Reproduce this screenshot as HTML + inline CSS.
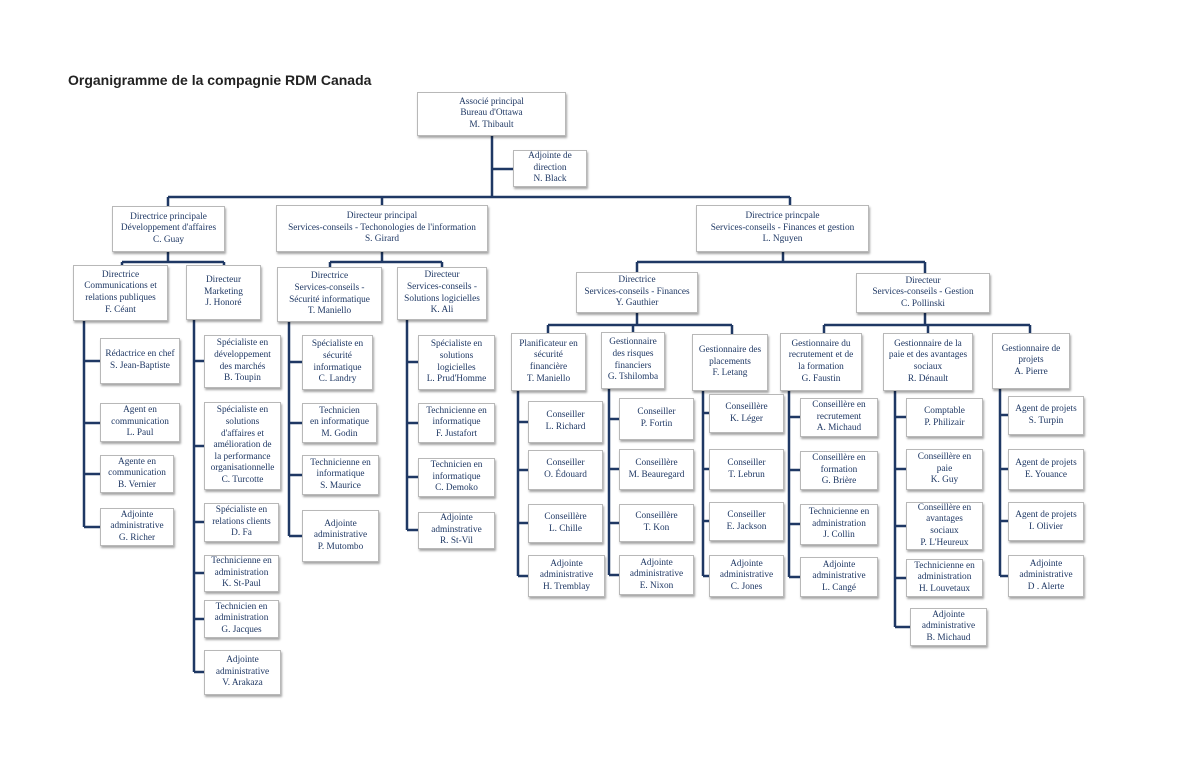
<!DOCTYPE html>
<html><head><meta charset="utf-8"><style>
body{margin:0;width:1200px;height:776px;background:#fff;position:relative;overflow:hidden}
.t{position:absolute;left:68px;top:72px;font:bold 14px "Liberation Sans",sans-serif;color:#222}
.b{position:absolute;box-sizing:border-box;border:1px solid #b8b8b8;background:#fff;box-shadow:1px 2px 2px rgba(0,0,0,.35);display:flex;align-items:center;justify-content:center;text-align:center;font:9.3px/11.6px "Liberation Serif",serif;color:#1f3864;white-space:nowrap}
svg{position:absolute;left:0;top:0}
</style></head><body>
<div class="t">Organigramme de la compagnie RDM Canada</div>
<svg width="1200" height="776"><g stroke="#1f3864" stroke-width="2.5" fill="none">
<path d="M492 136V197M492 169H513M168 197H790M168 197V206M382 197V205M790 197V205"/>
<path d="M168 252V262M122 262H224M122 262V265M224 262V265"/>
<path d="M382 252V262M330 262H442M330 262V267M442 262V267"/>
<path d="M783 252V262M637 262H925M637 262V272M925 262V273"/>
<path d="M637 313V325M548 325H732M548 325V333M633 325V332M732 325V334"/>
<path d="M925 313V325M824 325H1030M824 325V333M928 325V333M1030 325V333"/>
<path d="M84 321V527M84 361H100M84 423H100M84 474H100M84 527H100"/>
<path d="M194 320V672M194 361H204M194 446H204M194 522H204M194 573H204M194 619H204M194 672H204"/>
<path d="M289 322V536M289 362H302M289 423H302M289 475H302M289 536H302"/>
<path d="M407 320V530M407 362H418M407 423H418M407 477H418M407 530H418"/>
<path d="M518 391V576M518 422H528M518 470H528M518 523H528M518 576H528"/>
<path d="M609 389V575M609 419H619M609 469H619M609 523H619M609 575H619"/>
<path d="M703 391V576M703 413H709M703 469H709M703 521H709M703 576H709"/>
<path d="M789 391V577M789 417H800M789 470H800M789 524H800M789 577H800"/>
<path d="M895 391V627M895 417H906M895 469H906M895 526H906M895 578H906M895 627H910"/>
<path d="M1000 389V576M1000 415H1008M1000 469H1008M1000 521H1008M1000 576H1008"/>
</g></svg>
<div class="b" style="left:417px;top:92px;width:149px;height:44px">Associé principal<br>Bureau d'Ottawa<br>M. Thibault</div>
<div class="b" style="left:513px;top:150px;width:74px;height:37px">Adjointe de<br>direction<br>N. Black</div>
<div class="b" style="left:112px;top:206px;width:113px;height:46px">Directrice principale<br>Développement d'affaires<br>C. Guay</div>
<div class="b" style="left:276px;top:205px;width:212px;height:47px">Directeur principal<br>Services-conseils - Techonologies de l'information<br>S. Girard</div>
<div class="b" style="left:696px;top:205px;width:173px;height:47px">Directrice princpale<br>Services-conseils - Finances et gestion<br>L. Nguyen</div>
<div class="b" style="left:73px;top:265px;width:95px;height:56px">Directrice<br>Communications et<br>relations publiques<br>F. Céant</div>
<div class="b" style="left:186px;top:265px;width:75px;height:55px">Directeur<br>Marketing<br>J. Honoré</div>
<div class="b" style="left:277px;top:267px;width:105px;height:55px">Directrice<br>Services-conseils -<br>Sécurité informatique<br>T. Maniello</div>
<div class="b" style="left:397px;top:267px;width:90px;height:53px">Directeur<br>Services-conseils -<br>Solutions logicielles<br>K. Ali</div>
<div class="b" style="left:576px;top:272px;width:122px;height:41px">Directrice<br>Services-conseils - Finances<br>Y. Gauthier</div>
<div class="b" style="left:856px;top:273px;width:134px;height:40px">Directeur<br>Services-conseils - Gestion<br>C. Pollinski</div>
<div class="b" style="left:511px;top:333px;width:75px;height:58px">Planificateur en<br>sécurité<br>financière<br>T. Maniello</div>
<div class="b" style="left:601px;top:332px;width:64px;height:57px">Gestionnaire<br>des risques<br>financiers<br>G. Tshilomba</div>
<div class="b" style="left:692px;top:334px;width:76px;height:57px">Gestionnaire des<br>placements<br>F. Letang</div>
<div class="b" style="left:780px;top:333px;width:82px;height:58px">Gestionnaire du<br>recrutement et de<br>la formation<br>G. Faustin</div>
<div class="b" style="left:883px;top:333px;width:90px;height:58px">Gestionnaire de la<br>paie et des avantages<br>sociaux<br>R. Dénault</div>
<div class="b" style="left:992px;top:333px;width:78px;height:56px">Gestionnaire de<br>projets<br>A. Pierre</div>

<div class="b" style="left:100px;top:338px;width:80px;height:46px">Rédactrice en chef<br>S. Jean-Baptiste</div>
<div class="b" style="left:100px;top:403px;width:80px;height:39px">Agent en<br>communication<br>L. Paul</div>
<div class="b" style="left:100px;top:455px;width:74px;height:38px">Agente en<br>communication<br>B. Vernier</div>
<div class="b" style="left:100px;top:508px;width:74px;height:38px">Adjointe<br>administrative<br>G. Richer</div>

<div class="b" style="left:204px;top:335px;width:77px;height:53px">Spécialiste en<br>développement<br>des marchés<br>B. Toupin</div>
<div class="b" style="left:204px;top:402px;width:77px;height:88px">Spécialiste en<br>solutions<br>d'affaires et<br>amélioration de<br>la performance<br>organisationnelle<br>C. Turcotte</div>
<div class="b" style="left:204px;top:503px;width:75px;height:39px">Spécialiste en<br>relations clients<br>D. Fa</div>
<div class="b" style="left:204px;top:555px;width:75px;height:37px">Technicienne en<br>administration<br>K. St-Paul</div>
<div class="b" style="left:204px;top:600px;width:75px;height:38px">Technicien en<br>administration<br>G. Jacques</div>
<div class="b" style="left:204px;top:650px;width:77px;height:45px">Adjointe<br>administrative<br>V. Arakaza</div>

<div class="b" style="left:302px;top:335px;width:71px;height:55px">Spécialiste en<br>sécurité<br>informatique<br>C. Landry</div>
<div class="b" style="left:302px;top:403px;width:75px;height:40px">Technicien<br>en informatique<br>M. Godin</div>
<div class="b" style="left:302px;top:455px;width:77px;height:40px">Technicienne en<br>informatique<br>S. Maurice</div>
<div class="b" style="left:302px;top:510px;width:77px;height:52px">Adjointe<br>administrative<br>P. Mutombo</div>

<div class="b" style="left:418px;top:335px;width:77px;height:55px">Spécialiste en<br>solutions<br>logicielles<br>L. Prud'Homme</div>
<div class="b" style="left:418px;top:403px;width:77px;height:40px">Technicienne en<br>informatique<br>F. Justafort</div>
<div class="b" style="left:418px;top:458px;width:77px;height:39px">Technicien en<br>informatique<br>C. Demoko</div>
<div class="b" style="left:418px;top:512px;width:77px;height:37px">Adjointe<br>adminstrative<br>R. St-Vil</div>

<div class="b" style="left:528px;top:401px;width:75px;height:42px">Conseiller<br>L. Richard</div>
<div class="b" style="left:528px;top:450px;width:75px;height:40px">Conseiller<br>O. Édouard</div>
<div class="b" style="left:528px;top:504px;width:75px;height:39px">Conseillère<br>L. Chille</div>
<div class="b" style="left:528px;top:555px;width:77px;height:42px">Adjointe<br>administrative<br>H. Tremblay</div>

<div class="b" style="left:619px;top:398px;width:75px;height:42px">Conseiller<br>P. Fortin</div>
<div class="b" style="left:619px;top:449px;width:75px;height:41px">Conseillère<br>M. Beauregard</div>
<div class="b" style="left:619px;top:504px;width:75px;height:38px">Conseillère<br>T. Kon</div>
<div class="b" style="left:619px;top:555px;width:75px;height:40px">Adjointe<br>administrative<br>E. Nixon</div>

<div class="b" style="left:709px;top:394px;width:75px;height:39px">Conseillère<br>K. Léger</div>
<div class="b" style="left:709px;top:449px;width:75px;height:41px">Conseiller<br>T. Lebrun</div>
<div class="b" style="left:709px;top:502px;width:75px;height:39px">Conseiller<br>E. Jackson</div>
<div class="b" style="left:709px;top:555px;width:75px;height:42px">Adjointe<br>administrative<br>C. Jones</div>

<div class="b" style="left:800px;top:398px;width:78px;height:39px">Conseillère en<br>recrutement<br>A. Michaud</div>
<div class="b" style="left:800px;top:451px;width:78px;height:39px">Conseillère en<br>formation<br>G. Brière</div>
<div class="b" style="left:800px;top:504px;width:78px;height:41px">Technicienne en<br>administration<br>J. Collin</div>
<div class="b" style="left:800px;top:557px;width:78px;height:40px">Adjointe<br>administrative<br>L. Cangé</div>

<div class="b" style="left:906px;top:398px;width:77px;height:39px">Comptable<br>P. Philizair</div>
<div class="b" style="left:906px;top:449px;width:77px;height:41px">Conseillère en<br>paie<br>K. Guy</div>
<div class="b" style="left:906px;top:502px;width:77px;height:48px">Conseillère en<br>avantages<br>sociaux<br>P. L'Heureux</div>
<div class="b" style="left:906px;top:559px;width:77px;height:38px">Technicienne en<br>administration<br>H. Louvetaux</div>
<div class="b" style="left:910px;top:608px;width:77px;height:38px">Adjointe<br>administrative<br>B. Michaud</div>

<div class="b" style="left:1008px;top:396px;width:76px;height:39px">Agent de projets<br>S. Turpin</div>
<div class="b" style="left:1008px;top:449px;width:76px;height:41px">Agent de projets<br>E. Youance</div>
<div class="b" style="left:1008px;top:502px;width:76px;height:39px">Agent de projets<br>I. Olivier</div>
<div class="b" style="left:1008px;top:555px;width:76px;height:42px">Adjointe<br>administrative<br>D . Alerte</div>
</body></html>
